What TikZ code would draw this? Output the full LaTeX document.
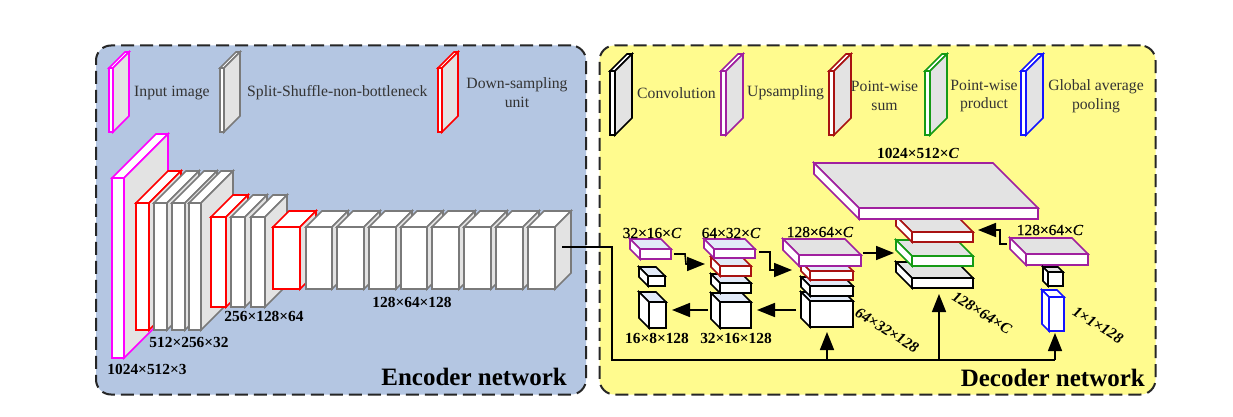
\documentclass[tikz,border=0pt]{standalone}
\usepackage{fontspec}
\setmainfont{Liberation Serif}
\newfontfamily\medfont[FakeBold=0.6]{Liberation Serif}
\usetikzlibrary{arrows.meta}
\definecolor{encbg}{HTML}{B4C6E2}
\definecolor{decbg}{HTML}{FFFB8E}
\definecolor{sidegray}{HTML}{E3E3E3}
\definecolor{lightblue}{HTML}{E2EAF8}
\definecolor{cmag}{HTML}{FF00FF}
\definecolor{cred}{HTML}{FF0000}
\definecolor{cgray}{HTML}{7A7A7A}
\definecolor{cpurple}{HTML}{A0209F}
\definecolor{cdred}{HTML}{A81212}
\definecolor{cgreen}{HTML}{159A15}
\definecolor{cblue}{HTML}{1414FF}
\definecolor{txt}{HTML}{333333}
\newcommand{\boxR}[7]{% name,x,y,w,h,d,colour: depth to upper right
  \draw[cube,draw=#7,fill=white] (#2,#3) -- ++(#6,-#6) -- ++(#4,0) -- ++(-#6,#6) -- cycle;
  \draw[cube,draw=#7,fill=sidegray] (#2+#4,#3) -- ++(#6,-#6) -- ++(0,#5) -- ++(-#6,#6) -- cycle;
  \draw[cube,draw=#7,fill=white] (#2,#3) rectangle ++(#4,#5);
  \coordinate (#1) at (#2+#4/2,#3+#5/2);}
\newcommand{\boxL}[8]{% name,x,y,w,h,d,colour,top fill: depth to upper left
  \draw[cube,draw=#7,fill=#8] (#2,#3) -- ++(-#6,-#6) -- ++(#4,0) -- ++(#6,#6) -- cycle;
  \draw[cube,draw=#7,fill=white] (#2,#3) -- ++(-#6,-#6) -- ++(0,#5) -- ++(#6,#6) -- cycle;
  \draw[cube,draw=#7,fill=white] (#2,#3) rectangle ++(#4,#5);
  \coordinate (#1) at (#2+#4/2,#3+#5/2);}
\tikzset{
  cube/.style={line width=1.6pt,line join=miter},
  panel/.style={draw=black!85,line width=2pt,dash pattern=on 13pt off 6pt,rounded corners=15pt,anchor=north west,inner sep=0pt,outer sep=0pt},
  legend/.style={font=\fontsize{15.7}{18.8}\selectfont,text=txt,align=center,inner sep=0pt},
  dim/.style={font=\fontsize{15.4}{19}\selectfont\bfseries,inner sep=0pt},
  dimreg/.style={font=\fontsize{15.4}{19}\selectfont\medfont,inner sep=0pt},
  dimrot/.style={font=\fontsize{15.4}{19}\selectfont\bfseries\itshape,inner sep=0pt,rotate=-32},
  title/.style={font=\fontsize{25}{30}\selectfont\bfseries,inner sep=0pt},
  conn/.style={line width=1.6pt,line join=miter},
  arr/.style={conn,-{Triangle[length=18pt,width=14pt]}}
}
\begin{document}
\begin{tikzpicture}[x=1pt,y=-1pt]
\fill[white] (0,0) rectangle (1233,417);
\useasboundingbox (0,0) rectangle (1233,417);
\node[panel,fill=encbg,minimum width=490pt,minimum height=349pt] (encoder) at (96,45.5) {};
\node[panel,fill=decbg,minimum width=556pt,minimum height=349pt] (decoder) at (599.5,45.5) {};

% encoder legend
\boxR{lg1}{109}{68}{4}{64}{16}{cmag}
\boxR{lg2}{220}{68}{4}{64}{16}{cgray}
\boxR{lg3}{438}{68}{4}{64}{16}{cred}
\node[legend,anchor=west] (t1) at (134,93) {Input image};
\node[legend,anchor=west] (t2) at (247,93) {Split-Shuffle-non-bottleneck};
\node[legend] (t3) at (517,92.5) {Down-sampling\\unit};

% encoder
\boxR{e0}{112}{178}{12}{180}{44}{cmag}
\boxR{e1}{136}{203}{13}{127}{32}{cred}
\boxR{e2}{154}{203}{13}{127}{32}{cgray}
\boxR{e3}{172}{203}{13}{127}{32}{cgray}
\boxR{e4}{189}{203}{12}{127}{32}{cgray}
\boxR{e5}{211}{217}{15}{90}{22}{cred}
\boxR{e6}{231}{217}{14}{90}{22}{cgray}
\boxR{e7}{251}{217}{14}{90}{22}{cgray}
\boxR{e8}{273}{227}{27}{62}{16}{cred}
\boxR{e9}{306}{227}{26}{62}{16}{cgray}
\boxR{e10}{337}{227}{27}{62}{16}{cgray}
\boxR{e11}{369}{227}{27}{62}{16}{cgray}
\boxR{e12}{401}{227}{26}{62}{16}{cgray}
\boxR{e13}{432}{227}{27}{62}{16}{cgray}
\boxR{e14}{464}{227}{27}{62}{16}{cgray}
\boxR{e15}{496}{227}{27}{62}{16}{cgray}
\boxR{e16}{528}{227}{27}{62}{16}{cgray}
\node[dim] (d0) at (147,369) {1024×512×3};
\node[dim] (d1) at (189,342) {512×256×32};
\node[dim] (d2) at (264,316) {256×128×64};
\node[dim] (d3) at (412,302) {128×64×128};
\node[title,anchor=east] (enct) at (567,377) {Encoder network};

% decoder legend
\boxR{lc1}{610}{71}{5}{64}{17}{black}
\boxR{lc2}{721}{71}{5}{64}{17}{cpurple}
\boxR{lc3}{829}{71}{5}{64}{17}{cdred}
\boxR{lc4}{925}{71}{5}{64}{17}{cgreen}
\boxR{lc5}{1021}{71}{5}{64}{17}{cblue}
\node[legend,anchor=west] (l1) at (637,93) {Convolution};
\node[legend,anchor=west] (l2) at (747,93) {Upsampling};
\node[legend] (l3) at (884.5,96) {Point-wise\\sum};
\node[legend] (l4) at (984,96) {Point-wise\\product};
\node[legend] (l5) at (1096,96) {Global average\\pooling};

% column 1
\boxL{c1a}{649}{302}{17}{26}{10}{black}{lightblue}
\boxL{c1b}{648}{276}{17}{10}{9}{black}{lightblue}
\boxL{c1c}{640}{249}{31}{10}{10}{cpurple}{lightblue}
% column 2
\boxL{c2a}{720}{302}{31}{26}{9}{black}{lightblue}
\boxL{c2b}{720}{283}{31}{10}{9}{black}{lightblue}
\boxL{c2c}{720}{266}{31}{10}{9}{cdred}{lightblue}
\boxL{c2d}{714}{249}{41}{9}{10}{cpurple}{lightblue}
% column 3
\boxL{c3a}{810}{301}{43}{26}{9}{black}{lightblue}
\boxL{c3b}{810}{286}{43}{10}{9}{black}{lightblue}
\boxL{c3c}{810}{271}{43}{9}{9}{cdred}{lightblue}
\boxL{c3d}{799}{255}{62}{11}{16}{cpurple}{sidegray}
% column 4
\boxL{c4a}{912}{278}{61}{10}{16}{black}{sidegray}
\boxL{c4b}{912}{256}{61}{10}{16}{cgreen}{sidegray}
\boxL{c4c}{912}{232}{61}{10}{16}{cdred}{sidegray}
\boxL{c4d}{859}{208}{179}{11}{45}{cpurple}{sidegray}
% column 5
\boxL{c5a}{1026}{254}{62}{11}{16}{cpurple}{sidegray}
\boxL{c5b}{1048}{272}{15}{14}{5}{black}{sidegray}
\boxL{c5c}{1049}{297}{15}{34}{7}{cblue}{white}

% dimension labels
\node[dimreg] (m1) at (652,233) {32×16×\textit{C}};
\node[dimreg] (m2) at (731,233) {64×32×\textit{C}};
\node[dimreg] (m3) at (820,232) {128×64×\textit{C}};
\node[dim] (m4) at (918,153) {1024×512×\textit{C}};
\node[dimreg] (m5) at (1050,230) {128×64×\textit{C}};
\node[dim] (m6) at (657,338) {16×8×128};
\node[dim] (m7) at (736,338) {32×16×128};
\node[dimrot] (m8) at (887,330) {64×32×128};
\node[dimrot] (m9) at (982,313) {128×64×\textit{C}};
\node[dimrot] (m10) at (1098,325) {1×1×128};
\node[title,anchor=east] (dect) at (1145,378) {Decoder network};

% connectors
\coordinate (src) at (562,247);
\coordinate (b1) at (612,247);
\coordinate (b2) at (612,360);
\coordinate (j1) at (827,360);
\coordinate (j2) at (939,360);
\coordinate (j3) at (1055,360);
\coordinate (t1c) at (827,332);
\coordinate (t2c) at (939,294);
\coordinate (t3c) at (1055,333);
\draw[conn] (src) -- (b1) -- (b2) -- (j3);
\draw[arr] (j1) -- (t1c);
\draw[arr] (j2) -- (t2c);
\draw[arr] (j3) -- (t3c);

\coordinate (a1s) at (674,254);
\coordinate (a1m) at (685,254);
\coordinate (a1n) at (686,264);
\coordinate (a1e) at (705,264);
\draw[arr] (a1s) -- (a1m) -- (a1n) -- (a1e);
\coordinate (a2s) at (759,252);
\coordinate (a2m) at (770,252);
\coordinate (a2n) at (770,270);
\coordinate (a2e) at (792,270);
\draw[arr] (a2s) -- (a2m) -- (a2n) -- (a2e);
\coordinate (a3s) at (863,253);
\coordinate (a3e) at (894,253);
\draw[arr] (a3s) -- (a3e);
\coordinate (a4s) at (1007,244);
\coordinate (a4m) at (1000,244);
\coordinate (a4n) at (1000,230);
\coordinate (a4e) at (978,230);
\draw[arr] (a4s) -- (a4m) -- (a4n) -- (a4e);
\coordinate (a5s) at (796,310);
\coordinate (a5e) at (757,310);
\draw[arr] (a5s) -- (a5e);
\coordinate (a6s) at (708,310);
\coordinate (a6e) at (672,310);
\draw[arr] (a6s) -- (a6e);
\end{tikzpicture}
\end{document}
